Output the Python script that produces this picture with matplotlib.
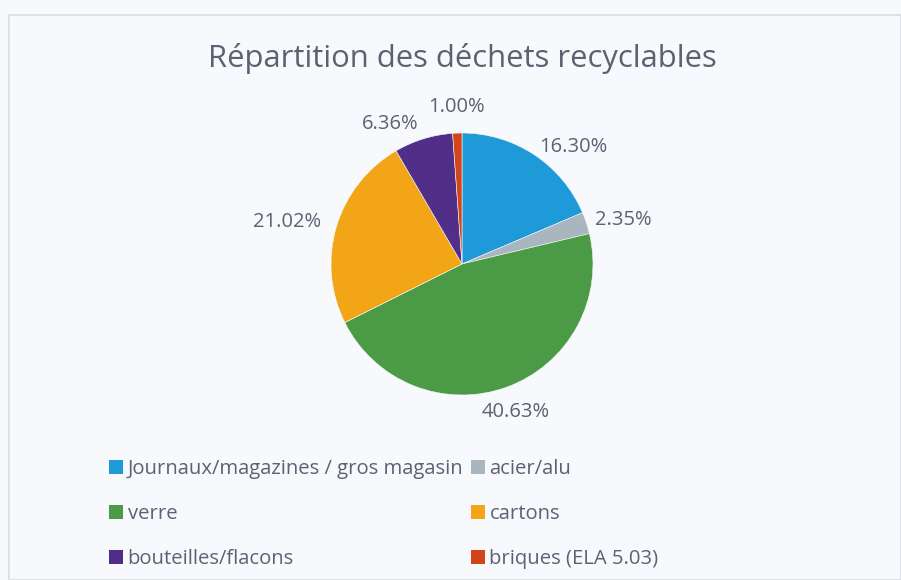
import numpy as np
import matplotlib
matplotlib.use("Agg")
import matplotlib.pyplot as plt

# Data
# -----------------------------------------------------------------------------
categories = ["Journaux/magazines / gros magasin", "acier/alu", "verre",
              "cartons", "bouteilles/flacons", "briques (ELA 5.03)"]
values = [16.30, 2.35, 40.63, 21.02, 6.36, 1.00]
colors = ["#1f9ad8", "#a9b5bf", "#4b9a45", "#f2a516", "#512e87", "#d2451b"]
title = "Répartition des déchets recyclables"

text_color = "#5a6372"
plt.rcParams["font.family"] = ["Open Sans", "DejaVu Sans"]

fig = plt.figure(figsize=(9.01, 5.80), dpi=100)
fig.patch.set_facecolor("#f8f9fc")

# frame of the chart area
border = plt.Rectangle((9 / 901, 0.0), (901 - 9) / 901, (580 - 15) / 580,
                       transform=fig.transFigure, fill=False,
                       edgecolor="#d9dce2", linewidth=1.2)
fig.add_artist(border)

# axes in pixel units, y pointing up
ax = fig.add_axes([0, 0, 1, 1])

cx, cy, r = 462, 580 - 264, 131
labels = [f"{v:.2f}%" for v in values]
wedges, texts = ax.pie(values, colors=colors, labels=labels, startangle=90,
                       counterclock=False, center=(cx, cy), radius=r,
                       labeldistance=1.07, frame=True,
                       wedgeprops={"linewidth": 0.4, "edgecolor": "#f8f9fc"},
                       textprops={"fontsize": 14.5, "color": text_color})
ax.set_xlim(0, 901)
ax.set_ylim(0, 580)
ax.set_aspect("equal")
ax.axis("off")

# label alignment relative to the pie centre (Excel "best fit" look)
label_dist = [1.07, 1.07, 1.2, 1.12, 1.12, 1.2]
for i, w in enumerate(wedges):
    mid = np.deg2rad((w.theta1 + w.theta2) / 2)
    if i in (2, 5):
        texts[i].set_ha("center")
    else:
        texts[i].set_ha("left" if np.cos(mid) > 0 else "right")
    d = label_dist[i]
    texts[i].set_position((cx + d * r * np.cos(mid), cy + d * r * np.sin(mid)))

fig.text(462 / 901, 1 - 58 / 580, title, ha="center", va="center",
         fontsize=22.3, color=text_color)

# legend in row order (2 columns)
order = [0, 2, 4, 1, 3, 5]
leg = fig.legend([wedges[i] for i in order], [categories[i] for i in order],
                 ncol=2, loc="upper left", bbox_to_anchor=(91 / 901, 1 - 441 / 580),
                 frameon=False, fontsize=14.6, labelcolor=text_color,
                 handlelength=0.7, handleheight=0.7, handletextpad=0.2,
                 labelspacing=1.22, columnspacing=0.4)
for h in leg.legend_handles:
    h.set_edgecolor("none")

fig.savefig("out.png", dpi=100, facecolor=fig.get_facecolor())
